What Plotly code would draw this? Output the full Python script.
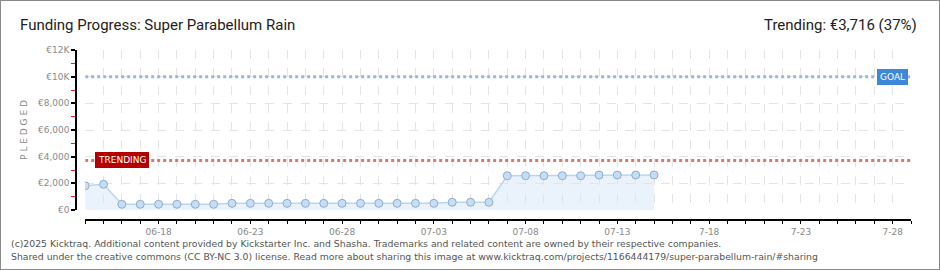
import plotly.graph_objects as go
import pandas as pd

# ---- data ----
dates = pd.date_range("2025-06-14", "2025-07-15", freq="D")
pledged = [1820, 1930, 430, 430, 430, 430, 430, 430, 500, 500,
           500, 500, 500, 500, 500, 500, 500, 500, 500, 500,
           580, 580, 580, 2570, 2570, 2570, 2570, 2570, 2625, 2625,
           2625, 2625]
goal = 10000
trending = 3716
trending_pct = 37
title = "Funding Progress: Super Parabellum Rain"
axis_days = pd.date_range("2025-06-14", "2025-07-29", freq="D")
label_map = {"2025-06-18": "06-18", "2025-06-23": "06-23", "2025-06-28": "06-28",
             "2025-07-03": "07-03", "2025-07-08": "07-08", "2025-07-13": "07-13",
             "2025-07-18": "7-18", "2025-07-23": "7-23", "2025-07-28": "7-28"}
y_tickvals = [0, 2000, 4000, 6000, 8000, 10000, 12000]
y_ticktext = ["€0", "€2,000", "€4,000", "€6,000", "€8,000", "€10K", "€12K"]
footer1 = ("(c)2025 Kicktraq. Additional content provided by Kickstarter Inc. and Shasha. "
           "Trademarks and related content are owned by their respective companies.")
footer2 = ("Shared under the creative commons (CC BY-NC 3.0) license. Read more about sharing "
           "this image at www.kicktraq.com/projects/1166444179/super-parabellum-rain/#sharing")

x_start, x_end = axis_days[0], axis_days[-1]
ticktext = [label_map.get(d.strftime("%Y-%m-%d"), "") for d in axis_days]

fig = go.Figure()

# goal and trending lines
fig.add_trace(go.Scatter(x=[x_start, x_end], y=[goal, goal], mode="lines",
                         line=dict(color="#94b8e2", width=3, dash="dot"),
                         hoverinfo="skip", showlegend=False))
fig.add_trace(go.Scatter(x=[x_start, x_end], y=[trending, trending], mode="lines",
                         line=dict(color="#d87878", width=3, dash="dot"),
                         hoverinfo="skip", showlegend=False))

# pledged series
fig.add_trace(go.Scatter(x=dates, y=pledged, mode="lines+markers",
                         fill="tozeroy", fillcolor="rgba(214,232,250,0.5)",
                         line=dict(color="#b8d6f4", width=1.5),
                         marker=dict(size=8, color="#c4def8",
                                     line=dict(color="#93aac8", width=1)),
                         showlegend=False))

fig.update_layout(
    width=940, height=270,
    margin=dict(l=76, r=29, t=50, b=50),
    paper_bgcolor="white", plot_bgcolor="white",
    showlegend=False,
    xaxis=dict(
        type="date", range=[x_start, x_end], domain=[0.011, 1],
        anchor="free", position=0,
        tickmode="array", tickvals=axis_days, ticktext=ticktext,
        ticks="outside", ticklen=3, tickcolor="black", tickwidth=1,
        showline=True, linecolor="black", linewidth=1.5,
        showgrid=True, gridcolor="#e4e4e4", griddash="dash", gridwidth=1,
        zeroline=False,
        tickfont=dict(family="DejaVu Sans", size=9, color="#8a8a8a"),
    ),
    yaxis=dict(
        range=[0, 12000], domain=[10/170, 1],
        anchor="free", position=0,
        tickmode="array", tickvals=y_tickvals, ticktext=y_ticktext,
        ticks="outside", ticklen=4, tickcolor="black", tickwidth=1.5,
        minor=dict(dtick=1000, tick0=1000, ticks="outside", ticklen=4,
                   tickcolor="#e02020", tickwidth=1, showgrid=False),
        showline=True, linecolor="black", linewidth=1.5,
        showgrid=True, gridcolor="#e4e4e4", griddash="dash", gridwidth=1,
        zeroline=False,
        tickfont=dict(family="DejaVu Sans", size=9, color="#8a8a8a"),
        title=dict(text="P L E D G E D", font=dict(family="DejaVu Sans", size=9, color="#8a8a8a"),
                   standoff=8),
    ),
    annotations=[
        dict(text=title, xref="paper", yref="paper", x=20/940 - 76/835, y=1, yshift=25,
             xanchor="left", yanchor="middle", showarrow=False,
             font=dict(family="Roboto", size=15, color="#222")),
        dict(text=f"Trending: €{trending:,} ({trending_pct}%)", xref="paper", yref="paper",
             x=1, xshift=8, y=1, yshift=25, xanchor="right", yanchor="middle", showarrow=False,
             font=dict(family="Roboto", size=15, color="#222")),
        dict(text="TRENDING", xref="x", yref="y", x="2025-06-16 00:00", y=trending,
             showarrow=False, bgcolor="#b50000", bordercolor="#b50000", borderpad=2,
             font=dict(family="DejaVu Sans", size=9, color="white"), xanchor="center"),
        dict(text="GOAL", xref="x", yref="y", x="2025-07-28 00:00", y=goal,
             showarrow=False, bgcolor="#3d88d8", bordercolor="#3d88d8", borderpad=2,
             font=dict(family="DejaVu Sans", size=9, color="white"), xanchor="center"),
        dict(text=footer1, xref="paper", yref="paper", x=0, xshift=-67, y=0, yshift=-23,
             xanchor="left", yanchor="middle", showarrow=False,
             font=dict(family="DejaVu Sans", size=9.3, color="#555")),
        dict(text=footer2, xref="paper", yref="paper", x=0, xshift=-67, y=0, yshift=-36,
             xanchor="left", yanchor="middle", showarrow=False,
             font=dict(family="DejaVu Sans", size=9.3, color="#555")),
    ],
    shapes=[
        dict(type="rect", xref="paper", yref="paper", x0=-76/835, x1=1 + 29/835,
             y0=-50/170, y1=1 + 50/170, line=dict(color="#8a8a8a", width=2)),
    ],
)

fig.write_html("out.html")
